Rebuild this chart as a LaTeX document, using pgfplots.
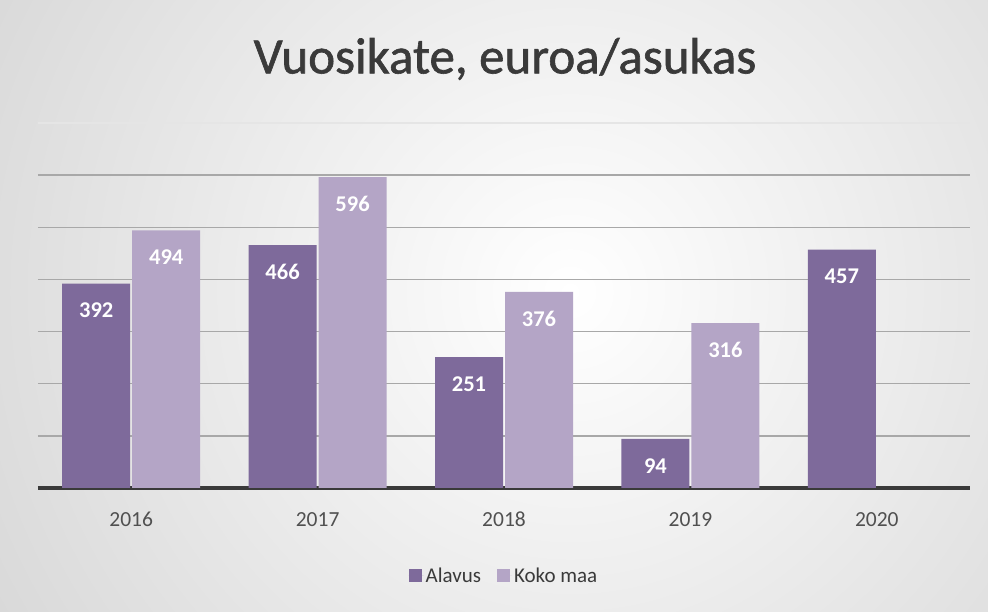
\documentclass[border=0pt]{standalone}
\usepackage{pgfplots}
\pgfplotsset{compat=1.18}
\usepackage{fontspec}
\setmainfont{Carlito}
\newfontfamily\titlefont[FakeBold=1.2]{Carlito}
\definecolor{dark}{HTML}{7E6A9B}
\definecolor{light}{HTML}{B4A5C6}
\definecolor{titlec}{HTML}{3A3A3A}
\definecolor{tickc}{HTML}{505050}
\definecolor{gridc}{HTML}{A8A8A8}
\definecolor{basec}{HTML}{3A3A3A}
\definecolor{edgec}{HTML}{BEBEBE}
\begin{document}
\begin{tikzpicture}[x=1pt,y=1pt]
\begin{scope}
\clip (0,0) rectangle (988,612);
\fill[edgec] (0,0) rectangle (988,612);
\shade[inner color=white, outer color=edgec] (570,320) circle (1120);
\end{scope}
\begin{axis}[
  at={(38pt,124pt)}, anchor=south west,
  scale only axis, width=932pt, height=365pt,
  xmin=-0.5, xmax=4.5, ymin=0, ymax=700,
  ybar=2pt, bar width=68pt,
  axis x line*=bottom, axis y line*=left,
  y axis line style={draw=none},
  x axis line style={line width=4.5pt, color=basec, -},
  xtick={0,1,2,3,4}, xticklabels={2016,2017,2018,2019,2020},
  ytick={100,200,...,600}, yticklabels={},
  extra y ticks={700}, extra y tick labels={},
  extra y tick style={grid style={gridc!30, line width=1.3pt}},
  ymajorgrids, grid style={gridc, line width=1.3pt},
  major tick length=0pt,
  /pgf/number format/assume math mode=true,
  xticklabel style={font=\fontsize{21.5}{25}\selectfont, text=tickc, anchor=base, yshift=-39pt},
  nodes near coords,
  nodes near coords style={font=\fontsize{22.5}{26}\selectfont\bfseries, text=white, anchor=center, yshift=-27pt},
  legend style={at={(0.5,-0.241)}, anchor=center, draw=none, fill=none,
    legend columns=2, font=\fontsize{21}{25}\selectfont, text=titlec,
    /tikz/every even column/.append style={column sep=14pt}},
  legend image code/.code={\fill[#1] (0pt,-6pt) rectangle (13pt,7pt); \path (0pt,0pt) -- (15pt,0pt);},
]
\addplot[fill=dark, draw=none] coordinates {(0,392) (1,466) (2,251) (3,94) (4,457)};
\addplot[fill=light, draw=none] coordinates {(0,494) (1,596) (2,376) (3,316)};
\legend{Alavus, Koko maa}
\end{axis}
\node[text=titlec, font=\fontsize{51}{60}\titlefont] at (505,553) {Vuosikate, euroa/asukas};
\end{tikzpicture}
\end{document}
